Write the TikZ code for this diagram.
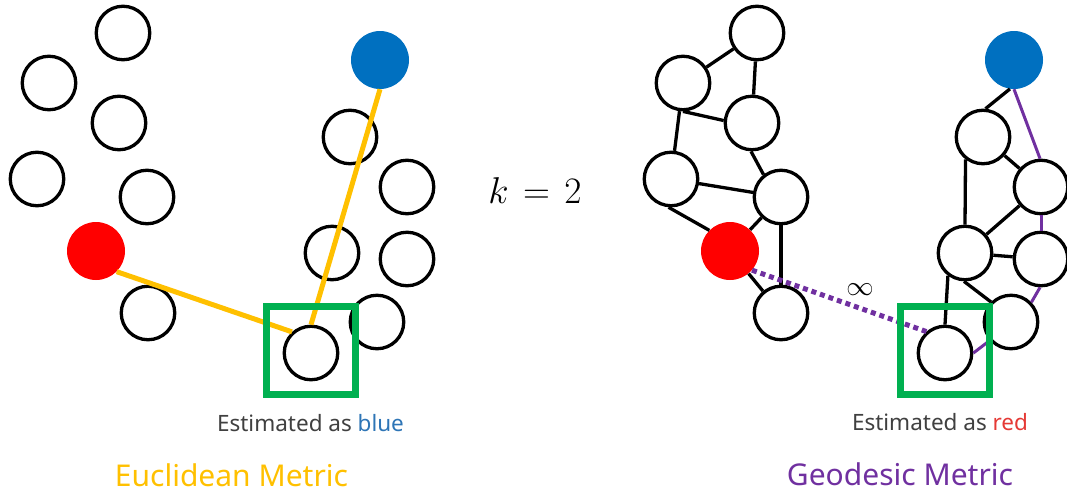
\documentclass[tikz,border=0pt]{standalone}
\usepackage{graphicx}
\usepackage{fontspec}
\setmainfont{Noto Sans}
\definecolor{myyellow}{HTML}{FFC000}
\definecolor{mypurple}{HTML}{7030A0}
\definecolor{mygreen}{HTML}{00B050}
\definecolor{myred}{HTML}{FF0000}
\definecolor{myblue}{HTML}{0070C0}
\definecolor{mygray}{HTML}{404040}
\definecolor{bluetxt}{HTML}{2E75B6}
\definecolor{redtxt}{HTML}{E53935}
\begin{document}
\begin{tikzpicture}[x=1pt,y=-1pt,
  nd/.style={circle,draw=black,line width=3.3pt,minimum size=53.5pt,inner sep=0pt,fill=white},
  rednd/.style={circle,fill=myred,minimum size=58pt,inner sep=0pt},
  bluend/.style={circle,fill=myblue,minimum size=58pt,inner sep=0pt},
  bedge/.style={line width=3.3pt,draw=black},
  pedge/.style={line width=3pt,draw=mypurple},
  yedge/.style={line width=5pt,draw=myyellow},
  dotedge/.style={line width=5pt,draw=mypurple,dash pattern=on 5pt off 4pt},
  gbox/.style={draw=mygreen,line width=7pt,minimum width=89pt,minimum height=88pt,inner sep=0pt},
  smalltxt/.style={font=\fontsize{22.5}{26}\selectfont,text=mygray,anchor=base,inner sep=0pt},
  bigtxt/.style={font=\fontsize{30}{34}\selectfont,anchor=base,inner sep=0pt}]
\useasboundingbox (0,0) rectangle (1067,496);

% ---------- left panel ----------
\node[nd] (a1) at (123,33) {};
\node[nd] (a2) at (49,83) {};
\node[nd] (a3) at (119,123) {};
\node[nd] (a4) at (37,179) {};
\node[nd] (a5) at (147,197) {};
\node[rednd] (ared) at (96,251) {};
\node[nd] (a6) at (148,313) {};
\node[bluend] (ablue) at (380,60) {};
\node[nd] (a7) at (350,137) {};
\node[nd] (a8) at (407,187) {};
\node[nd] (a9) at (332,253) {};
\node[nd] (a10) at (407,259) {};
\node[nd] (a11) at (377,322) {};
\node[nd] (aq) at (311,353) {};

\draw[yedge] (ared.-45) -- (aq.132);
\draw[yedge] (aq.north) -- (ablue.south);

\node[gbox] (abox) at (310.5,350.5) {};

% ---------- right panel ----------
\node[nd] (r1) at (757,33) {};
\node[nd] (r2) at (683,83) {};
\node[nd] (r3) at (752,123) {};
\node[nd] (r4) at (671,179) {};
\node[nd] (r5) at (781,197) {};
\node[rednd] (rred) at (730,251) {};
\node[nd] (r6) at (781,313) {};
\node[bluend] (rblue) at (1014,60) {};
\node[nd] (r7) at (983,137) {};
\node[nd] (r8) at (1041,187) {};
\node[nd] (r9) at (965,253) {};
\node[nd] (r10) at (1041,259) {};
\node[nd] (r11) at (1011,322) {};
\node[nd] (rq) at (945,353) {};

\draw[bedge] (r1) -- (r2);
\draw[bedge] (r1) -- (r3);
\draw[bedge] (r2.270) -- (r3.175);
\draw[bedge] (r2) -- (r4);
\draw[bedge] (r3.268) -- (r5.128);
\draw[bedge] (r4) -- (r5);
\draw[bedge] (r4.265) -- (rred.135);
\draw[bedge] (r5) -- (rred);
\draw[bedge] (r5) -- (r6);
\draw[bedge] (rred) -- (r6);
\draw[bedge] (rblue.262) -- (r7.85);
\draw[bedge] (r7.232) -- (r9.90);
\draw[bedge] (r7) -- (r8);
\draw[bedge] (r8) -- (r9);
\draw[bedge] (r9) -- (r10);
\draw[bedge] (r9.268) -- (r11.135);
\draw[bedge] (r9.233) -- (rq.90);

\draw[pedge] (rblue.270) -- (r8.92);
\draw[pedge] (r8) -- (r10);
\draw[pedge] (r10.268) -- (r11.44);
\draw[pedge] (rq.0) -- (r11.221);

\draw[dotedge] (rred.-41) -- (rq.131);
\node[font=\Huge] (inf) at (860,290) {\scalebox{1.1}{$\infty$}};

\node[gbox] (rbox) at (945,350.5) {};

% ---------- texts ----------
\node[font=\Huge,anchor=base,inner sep=0pt] (k) at (535,203) {\scalebox{1.5}{$k\mkern2mu=\mkern2mu2$}};
\node[smalltxt] (est1) at (310.5,431.5) {Estimated as \textcolor{bluetxt}{blue}};
\node[smalltxt] (est2) at (940,430.5) {Estimated as \textcolor{redtxt}{red}};
\node[bigtxt,text=myyellow] (eu) at (231.5,486) {Euclidean Metric};
\node[bigtxt,text=mypurple] (geo) at (900,485) {Geodesic Metric};
\end{tikzpicture}
\end{document}
